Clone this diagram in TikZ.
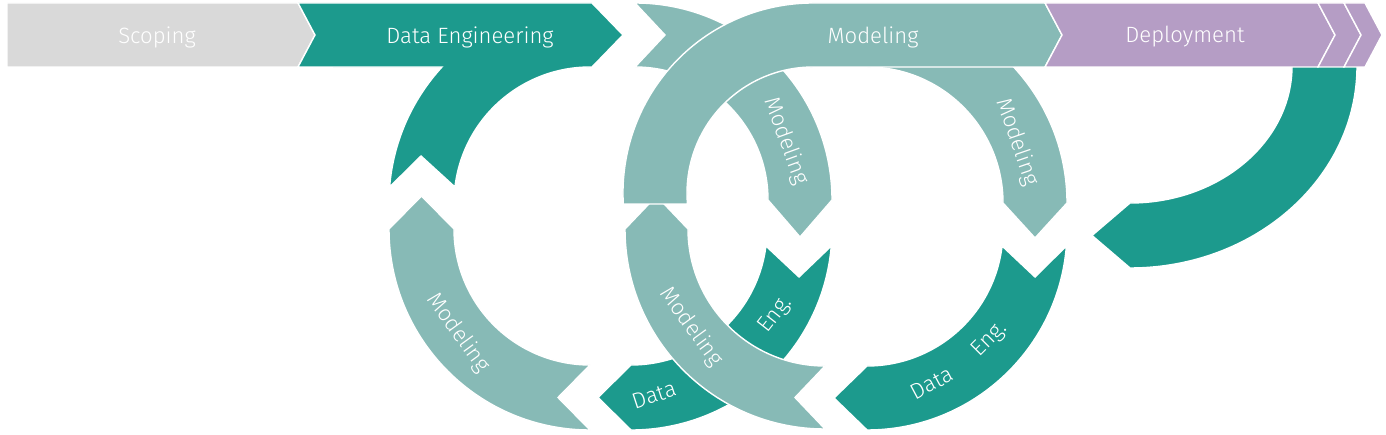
\documentclass[tikz,border=0pt]{standalone}
\usepackage{fontspec}
\setmainfont{Fira Sans}[UprightFont=* Light]

\definecolor{scopegray}{HTML}{D9D9D9}
\definecolor{engteal}{HTML}{1C9A8D}
\definecolor{modteal}{HTML}{87BAB6}
\definecolor{deploypurple}{HTML}{B59DC5}

\begin{document}
\begin{tikzpicture}[
		x=0.02cm,y=-0.02cm,
		phase/.style={draw=white,line width=0.8pt,line join=miter},
		lbl/.style={text=white,inner sep=0pt,font=\fontsize{12.6}{13}\selectfont}
		]
		\useasboundingbox (0,0) rectangle (1386,435);
		% top bar
		\filldraw[phase,fill=scopegray] (7,3) -- (298,3) -- (315,35) -- (298,67) -- (7,67) -- cycle;
		\filldraw[phase,fill=engteal] (298,3) -- (592,3) -- (623,35) -- (592,67) -- (590,67)
			arc[start angle=270,end angle=186.76,radius=136] -- (421,156) -- (389.6,187)
			arc[start angle=184.57,end angle=222.58,radius=201] -- (298,67) -- (315,35) -- cycle;
		% lower rings
		\filldraw[phase,fill=modteal] (454,229) -- (421.5,196) -- (389,229)
			arc[start angle=180,end angle=90,radius=201] -- (558,397.5) -- (590,365)
			arc[start angle=90,end angle=180,radius=136] -- cycle;
		\filldraw[phase,fill=engteal] (765.9,246) -- (799,277) -- (831.3,246)
			arc[start angle=4.85,end angle=90,radius=201] -- (598,397.5) -- (631,365)
			arc[start angle=90,end angle=7.18,radius=136] -- cycle;
		\filldraw[phase,fill=modteal] (688,229) -- (656.5,196) -- (625,229)
			arc[start angle=180,end angle=90,radius=200] -- (795,397.5) -- (825,366)
			arc[start angle=90,end angle=180,radius=137] -- cycle;
		\filldraw[phase,fill=engteal] (1002.1,246) -- (1035,277) -- (1066.4,246)
			arc[start angle=4.59,end angle=90,radius=200] -- (834,398) -- (867,366)
			arc[start angle=90,end angle=6.76,radius=136] -- cycle;
		% upper rings
		\filldraw[phase,fill=modteal] (635,3) -- (665,35) -- (635,67)
			arc[start angle=270,end angle=360,radius=133] -- (800,237) -- (832,200)
			arc[start angle=0,end angle=-90,radius=197] -- cycle;
		\filldraw[phase,fill=modteal] (867,67)
			arc[start angle=270,end angle=360,radius=136] -- (1035,238) -- (1067,203)
			arc[start angle=0,end angle=-90,radius=200] -- cycle;
		\filldraw[phase,fill=engteal] (1292,66)
			arc[start angle=0,end angle=90,x radius=162,y radius=137] -- (1092,235.5) -- (1130,268)
			arc[start angle=90,end angle=0,x radius=227,y radius=202] -- cycle;
		\filldraw[phase,fill=modteal] (687.5,204) -- (623.3,204)
			arc[start angle=176.68,end angle=270,radius=190] -- (1045,3) -- (1062,35) -- (1045,67) -- (813,67)
			arc[start angle=270,end angle=174.99,radius=126] -- cycle;
		% deployment
		\filldraw[phase,fill=deploypurple] (1045,3) -- (1318,3) -- (1335,35) -- (1318,67) -- (1045,67) -- (1062,35) -- cycle;
		\filldraw[phase,fill=deploypurple] (1318,3) -- (1344,3) -- (1361,35) -- (1344,67) -- (1318,67) -- (1335,35) -- cycle;
		\filldraw[phase,fill=deploypurple] (1344,3) -- (1365,3) -- (1382,35) -- (1365,67) -- (1344,67) -- (1361,35) -- cycle;
		% labels
		\node[lbl] (scoping) at (157,37) {Scoping};
		\node[lbl] (dataeng) at (470,37) {Data Engineering};
		\node[lbl] (modeling) at (873,37) {Modeling};
		\node[lbl] (deployment) at (1185,37) {Deployment};
		\node[lbl,rotate=-70] (modmid) at (786,141) {Modeling};
		\node[lbl,rotate=-71] (modright) at (1017,142) {Modeling};
		\node[lbl,rotate=-54] (modleft) at (458,333) {Modeling};
		\node[lbl,rotate=-54] (modlow) at (691,327) {Modeling};
		\node[lbl,rotate=18] (datamid) at (654,395) {Data};
		\node[lbl,rotate=52] (engmid) at (776,315) {Eng.};
		\node[lbl,rotate=28] (dataright) at (932,383) {Data};
		\node[lbl,rotate=45] (engright) at (990,340) {Eng.};
	\end{tikzpicture}
\end{document}
